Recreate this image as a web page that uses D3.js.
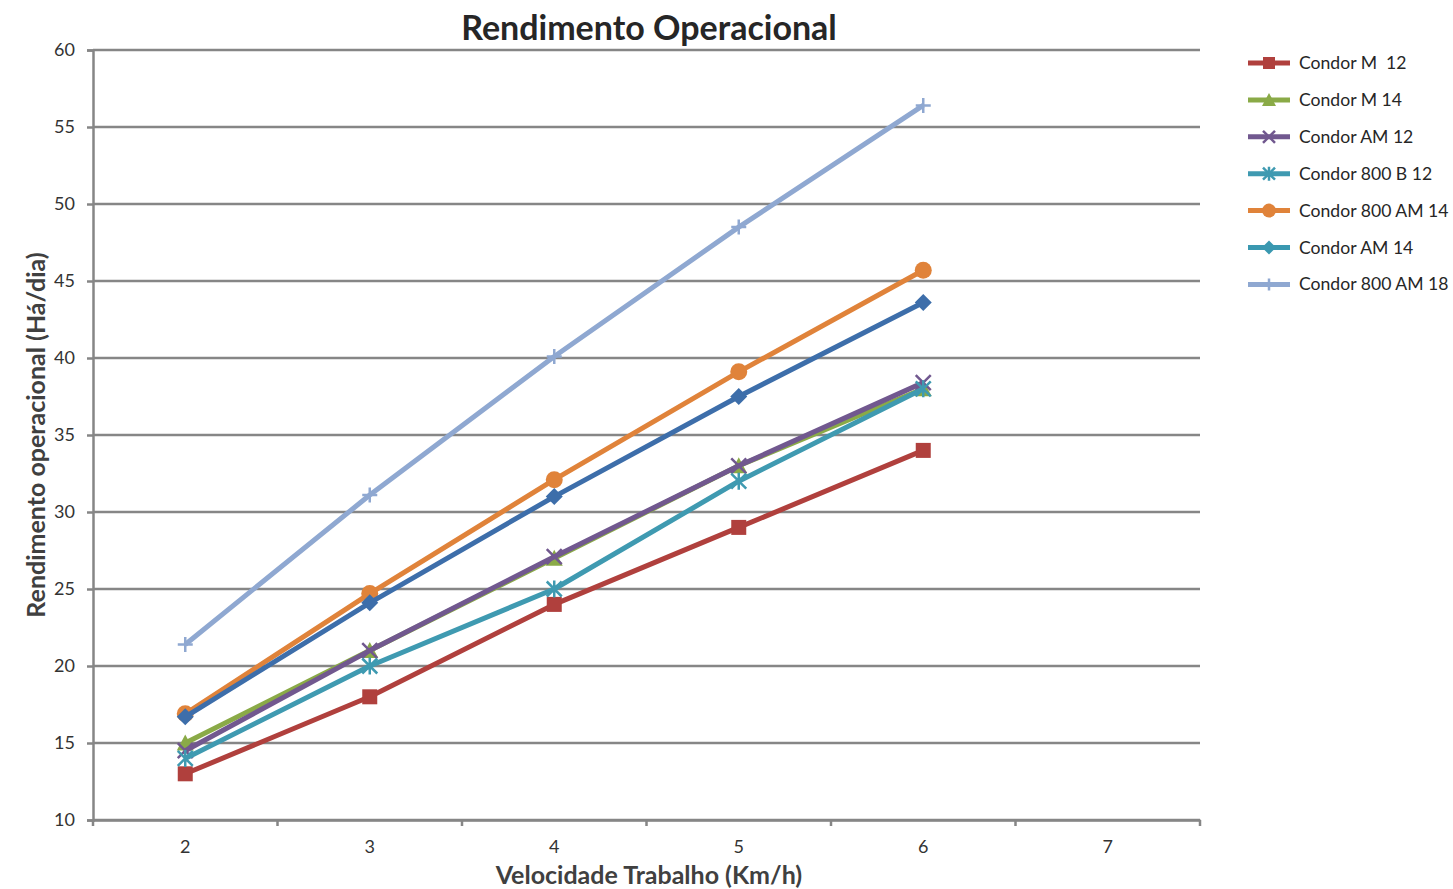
<!DOCTYPE html>
<html><head><meta charset="utf-8">
<script src="https://cdn.jsdelivr.net/npm/d3@7"></script>
<style>
body{margin:0;background:#fff;}
svg{display:block;font-family:Lato,"Open Sans",sans-serif;}
</style></head>
<body><svg id="c" width="1453" height="889"></svg>
<script>
const categories = ["2","3","4","5","6","7"];
const seriesNames = ["Condor M  12","Condor M 14","Condor AM 12","Condor 800 B 12","Condor 800 AM 14","Condor AM 14","Condor 800 AM 18"];
const condorM12 = [13, 18, 24, 29, 34];
const condorM14 = [15, 21, 27, 33, 38];
const condorAM12 = [14.5, 21, 27.1, 33, 38.4];
const condor800B12 = [14, 20, 25, 32, 38];
const condor800AM14 = [16.9, 24.7, 32.1, 39.1, 45.7];
const condorAM14 = [16.7, 24.1, 31, 37.5, 43.6];
const condor800AM18 = [21.4, 31.1, 40.1, 48.5, 56.4];
const yTicks = [10,15,20,25,30,35,40,45,50,55,60];

const seriesValues = [condorM12, condorM14, condorAM12, condor800B12, condor800AM14, condorAM14, condor800AM18];
const styles = [
  {color:"#B0403D", legend:"#B0403D", marker:"square"},
  {color:"#8AAA47", legend:"#8AAA47", marker:"triangle"},
  {color:"#71588F", legend:"#71588F", marker:"x"},
  {color:"#3F9AB1", legend:"#3F9AB1", marker:"star"},
  {color:"#E0833A", legend:"#E0833A", marker:"circle"},
  {color:"#3D6EAA", legend:"#3A98B0", marker:"diamond"},
  {color:"#8FA8D1", legend:"#8FA8D1", marker:"plus"}
];

const svg = d3.select("#c");
const L = 93, R = 1200, T = 50, B = 820;
const x = d3.scaleBand().domain(categories).range([L, R]);
const y = d3.scaleLinear().domain([10, 60]).range([B, T]);
const grid = "#868686";

svg.append("g").selectAll("line").data(yTicks).join("line")
  .attr("x1", L).attr("x2", R).attr("y1", d=>y(d)).attr("y2", d=>y(d))
  .attr("stroke", grid).attr("stroke-width", 2.5);

const yAxis = svg.append("g").attr("transform", `translate(${L},0)`)
  .call(d3.axisLeft(y).tickValues(yTicks).tickSize(6).tickPadding(12));
yAxis.attr("font-size", null).attr("font-family", null);
yAxis.select(".domain").attr("stroke", grid).attr("stroke-width", 2.5);
yAxis.selectAll(".tick line").attr("stroke", grid).attr("stroke-width", 2.5);
yAxis.selectAll("text").style("font-size", "18px").attr("fill", "#333");

const xAxis = svg.append("g").attr("transform", `translate(0,${B})`)
  .call(d3.axisBottom(x).tickSize(0).tickPadding(20));
xAxis.attr("font-size", null).attr("font-family", null);
xAxis.select(".domain").attr("stroke", grid).attr("stroke-width", 2.5);
xAxis.selectAll("text").style("font-size", "18px").attr("fill", "#333");
const bounds = categories.map(c => x(c)).concat([R]);
svg.append("g").selectAll("line").data(bounds).join("line")
  .attr("x1", d=>d).attr("x2", d=>d).attr("y1", B).attr("y2", B+6)
  .attr("stroke", grid).attr("stroke-width", 2.5);

const cx = i => x(categories[i]) + x.bandwidth()/2;

function marker(g, type, color, s) {
  if (type === "square") g.append("rect").attr("x",-s/2).attr("y",-s/2).attr("width",s).attr("height",s).attr("fill",color);
  else if (type === "circle") g.append("circle").attr("r", s/2+1).attr("fill", color);
  else if (type === "diamond") g.append("path").attr("d", `M0,${-s/2-1}L${s/2+1},0L0,${s/2+1}L${-s/2-1},0Z`).attr("fill", color);
  else if (type === "triangle") g.append("path").attr("d", `M0,${-s/2-1}L${s/2+1},${s/2}L${-s/2-1},${s/2}Z`).attr("fill", color);
  else if (type === "x") g.append("path").attr("d", `M${-s/2},${-s/2}L${s/2},${s/2}M${s/2},${-s/2}L${-s/2},${s/2}`).attr("stroke", color).attr("stroke-width", 2.5);
  else if (type === "star") g.append("path").attr("d", `M${-s/2},${-s/2}L${s/2},${s/2}M${s/2},${-s/2}L${-s/2},${s/2}M0,${-s/2-1}L0,${s/2+1}`).attr("stroke", color).attr("stroke-width", 2.5);
  else if (type === "plus") g.append("path").attr("d", `M${-s/2},0L${s/2},0M0,${-s/2}L0,${s/2}`).attr("stroke", color).attr("stroke-width", 2.5);
}

const line = d3.line().x((d,i)=>cx(i)).y(d=>y(d));
seriesValues.forEach((vals, si) => {
  const st = styles[si];
  svg.append("path").datum(vals).attr("d", line).attr("fill","none")
    .attr("stroke", st.color).attr("stroke-width", 5).attr("stroke-linejoin","round");
  vals.forEach((v, i) => {
    const g = svg.append("g").attr("transform", `translate(${cx(i)},${y(v)})`);
    marker(g, st.marker, st.color, 15);
  });
});

svg.append("text").attr("x", 649).attr("y", 40).attr("text-anchor","middle")
  .attr("font-size", 34).attr("font-weight","bold").attr("fill","#262626").text("Rendimento Operacional");
svg.append("text").attr("x", 649).attr("y", 884).attr("text-anchor","middle")
  .attr("font-size", 25).attr("font-weight","bold").attr("fill","#404040").text("Velocidade Trabalho (Km/h)");
svg.append("text").attr("transform","translate(45,435) rotate(-90)").attr("text-anchor","middle")
  .attr("font-size", 25).attr("font-weight","bold").attr("fill","#404040").text("Rendimento operacional (Há/dia)");

const lg = svg.append("g");
seriesNames.forEach((name, i) => {
  const yy = 63 + i * 36.9;
  const st = styles[i];
  lg.append("line").attr("x1",1248).attr("x2",1290).attr("y1",yy).attr("y2",yy)
    .attr("stroke", st.legend).attr("stroke-width", 5);
  const g = lg.append("g").attr("transform", `translate(1269,${yy})`);
  marker(g, st.marker, st.legend, 12);
  lg.append("text").attr("x", 1299).attr("y", yy+6).attr("font-size", 17.6).attr("fill","#262626")
    .attr("xml:space","preserve").text(name);
});
</script></body></html>
